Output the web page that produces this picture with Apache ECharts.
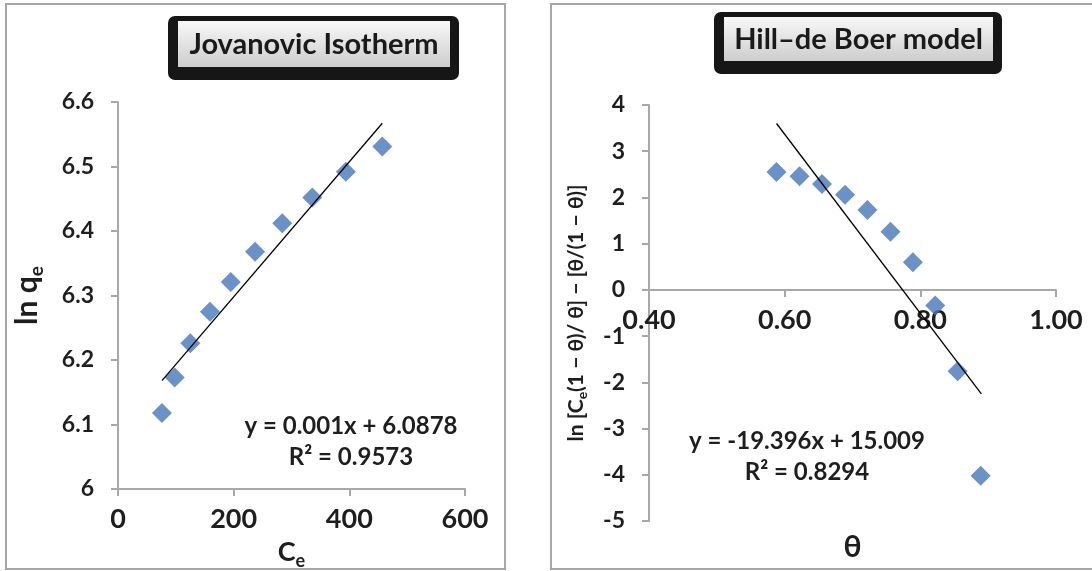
<!DOCTYPE html>
<html>
<head>
<meta charset="utf-8">
<script src="https://cdn.jsdelivr.net/npm/echarts@6/dist/echarts.min.js"></script>
<style>
html, body { margin: 0; padding: 0; background: #fff; }
#main { width: 1092px; height: 571px; }
</style>
</head>
<body>
<div id="main"></div>
<script>
// Jovanovic isotherm (left panel)
const jovC = [76, 98, 125, 159, 195, 237, 284, 336, 394, 457]
const jovLnQ = [6.118, 6.173, 6.226, 6.275, 6.321, 6.368, 6.412, 6.452, 6.492, 6.531]
const jovTrend = [[76, 6.168], [457, 6.567]]
const jovEq = ['y = 0.001x + 6.0878', 'R² = 0.9573']

// Hill-de Boer model (right panel)
const hillTheta = [0.588, 0.622, 0.655, 0.689, 0.722, 0.756, 0.789, 0.822, 0.855, 0.889]
const hillY = [2.55, 2.46, 2.29, 2.06, 1.73, 1.26, 0.60, -0.34, -1.76, -4.02]
const hillTrend = [[0.588, 3.60], [0.890, -2.25]]
const hillEq = ['y = -19.396x + 15.009', 'R² = 0.8294']

const FONT = 'Lato'
const INK = '#1e1e1e'
const AXIS_GREY = '#a8a8a8'
const BLUE = '#4677ba'

const hillYMin = -5, hillYMax = 4
const hillGridH = 416
// x axis of right panel sits on y = 0 (labels too), like Excel
const hillXOffset = -hillGridH * (0 - hillYMin) / (hillYMax - hillYMin)

const chart = echarts.init(document.getElementById('main'))

const labelStyle = size => ({
    fontFamily: FONT, fontWeight: 'bold', fontSize: size, color: INK
})

const axisCommon = {
    axisLine: { onZero: false, lineStyle: { color: AXIS_GREY, width: 2 } },
    axisTick: { length: 7, lineStyle: { color: AXIS_GREY, width: 2 } },
    splitLine: { show: false }
}

// title box: black frame + light gradient + text
function titleBox(x, y, w, h, text) {
    return [
        { type: 'rect', shape: { x: x, y: y, width: w, height: h, r: 7 },
          style: { fill: '#161616' } },
        { type: 'rect', shape: { x: x + 10, y: y + 5, width: w - 19, height: h - 18 },
          style: { fill: new echarts.graphic.LinearGradient(0, 0, 0, 1, [
              { offset: 0, color: '#f8f8f8' }, { offset: 1, color: '#cdcdcd' }]) } },
        { type: 'text', x: x + 10 + (w - 19) / 2, y: y + 5 + (h - 18) / 2 + 1,
          style: { text: text, fontFamily: FONT, fontWeight: 'bold', fontSize: 29,
                   fill: '#1a1a1a', align: 'center', verticalAlign: 'middle' } }
    ]
}

function eqText(cx, cy, lines) {
    return lines.map((t, i) => ({
        type: 'text', x: cx, y: cy + i * 31,
        style: { text: t, fontFamily: FONT, fontWeight: 'bold', fontSize: 24,
                 fill: INK, align: 'center', verticalAlign: 'middle' }
    }))
}

const option = {
    animation: false,
    backgroundColor: '#fff',
    grid: [
        { left: 118, top: 102, width: 347, height: 387, outerBoundsMode: 'none' },
        { left: 649, top: 105, width: 407, height: hillGridH, outerBoundsMode: 'none' }
    ],
    xAxis: [
        Object.assign({
            gridIndex: 0, type: 'value', min: 0, max: 600, interval: 200,
            axisLabel: Object.assign(labelStyle(27), { margin: 17 }),
            name: '{a|C}{s|e}', nameLocation: 'middle', nameGap: 45,
            nameTextStyle: { rich: {
                a: { fontFamily: FONT, fontWeight: 'bold', fontSize: 27, color: INK },
                s: { fontFamily: FONT, fontWeight: 'bold', fontSize: 18, color: INK, padding: [18, 0, 0, 0] }
            } }
        }, axisCommon),
        Object.assign({
            gridIndex: 1, type: 'value', min: 0.4, max: 1.0, interval: 0.2,
            offset: hillXOffset,
            axisLabel: Object.assign(labelStyle(27), { margin: 17,
                formatter: v => v.toFixed(2) }),
            name: 'θ', nameLocation: 'middle', nameGap: 242,
            nameTextStyle: { fontFamily: FONT, fontWeight: 'bold', fontSize: 30, color: INK }
        }, axisCommon)
    ],
    yAxis: [
        Object.assign({
            gridIndex: 0, type: 'value', min: 6, max: 6.6, interval: 0.1,
            axisLabel: Object.assign(labelStyle(23), { margin: 24 }),
            name: '{a|ln q}{s|e}', nameLocation: 'middle', nameGap: 72,
            nameTextStyle: { rich: {
                a: { fontFamily: FONT, fontWeight: 'bold', fontSize: 30, color: INK },
                s: { fontFamily: FONT, fontWeight: 'bold', fontSize: 19, color: INK, padding: [18, 0, 0, 0] }
            } }
        }, axisCommon),
        Object.assign({
            gridIndex: 1, type: 'value', min: hillYMin, max: hillYMax, interval: 1,
            axisLabel: Object.assign(labelStyle(23), { margin: 24 }),
            name: '{a|ln [C}{s|e}{a|(1 − θ)/ θ] − [θ/(1 − θ)]}',
            nameLocation: 'middle', nameGap: 60,
            nameTextStyle: { rich: {
                a: { fontFamily: FONT, fontWeight: 'bold', fontSize: 21, color: INK },
                s: { fontFamily: FONT, fontWeight: 'bold', fontSize: 14, color: INK, padding: [12, 0, 0, 0] }
            } }
        }, axisCommon)
    ],
    series: [
        {
            type: 'scatter', xAxisIndex: 0, yAxisIndex: 0,
            symbol: 'diamond', symbolSize: 20,
            itemStyle: { color: BLUE },
            data: jovC.map((c, i) => [c, jovLnQ[i]]),
            z: 2
        },
        {
            type: 'line', xAxisIndex: 0, yAxisIndex: 0,
            showSymbol: false, symbol: 'none',
            lineStyle: { color: '#000', width: 1.3 },
            data: jovTrend, z: 3
        },
        {
            type: 'scatter', xAxisIndex: 1, yAxisIndex: 1,
            symbol: 'diamond', symbolSize: 20,
            itemStyle: { color: BLUE },
            data: hillTheta.map((t, i) => [t, hillY[i]]),
            z: 2
        },
        {
            type: 'line', xAxisIndex: 1, yAxisIndex: 1,
            showSymbol: false, symbol: 'none',
            lineStyle: { color: '#000', width: 1.3 },
            data: hillTrend, z: 3
        }
    ],
    graphic: [
        // panel borders
        { type: 'rect', shape: { x: 6, y: 4, width: 499, height: 565 },
          style: { fill: 'none', stroke: '#a6a6a6', lineWidth: 2 } },
        { type: 'rect', shape: { x: 551, y: 4, width: 600, height: 565 },
          style: { fill: 'none', stroke: '#a6a6a6', lineWidth: 2 } }
    ]
        .concat(titleBox(168, 16, 291, 64, 'Jovanovic Isotherm'))
        .concat(titleBox(714, 12, 288, 62, 'Hill–de Boer model'))
        .concat(eqText(351, 426, jovEq))
        .concat(eqText(807, 441, hillEq))
}

chart.setOption(option)
</script>
</body>
</html>
